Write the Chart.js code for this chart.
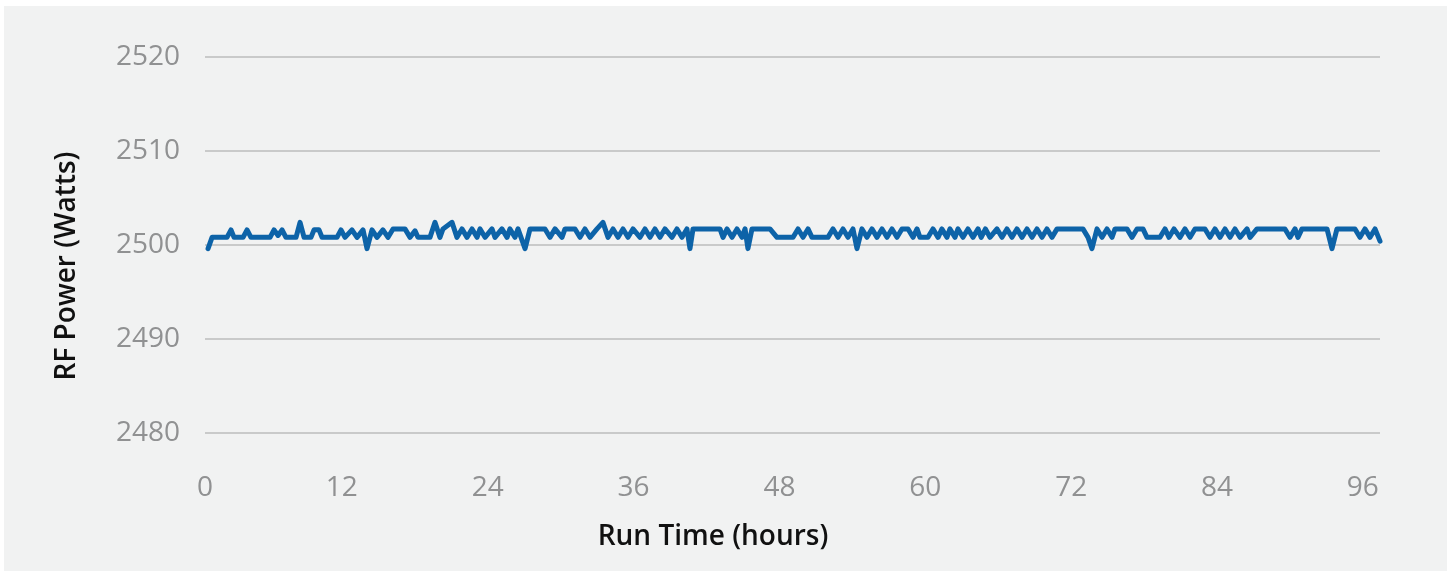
<!DOCTYPE html>
<html>
<head>
<meta charset="utf-8">
<script src="https://cdn.jsdelivr.net/npm/chart.js@4/dist/chart.umd.min.js"></script>
<style>
  html, body { margin: 0; padding: 0; background: #ffffff; }
  #panel { position: absolute; left: 4px; top: 6px; width: 1443px; height: 565px; background: #f1f2f2; }
  #wrap { position: absolute; left: 0; top: 0; width: 1447px; height: 575px; }
</style>
</head>
<body>
<div id="panel"></div>
<div id="wrap"><canvas id="canvasPower"></canvas></div>
<script>
// values
const runHours = [
  0.99, 1.32, 2.55, 2.88, 3.13, 3.87, 4.20, 4.52, 6.09, 6.42, 6.75, 7.08, 7.40, 8.23, 8.56, 8.89,
  9.46, 9.71, 10.12, 10.37, 11.60, 11.93, 12.26, 12.83, 13.25, 13.74, 14.07, 14.48, 14.89, 15.38, 15.80, 16.21,
  17.19, 17.61, 18.02, 18.26, 19.25, 19.66, 20.07, 20.32, 21.06, 21.47, 21.88, 22.30, 22.71, 23.12, 23.37, 23.78,
  24.35, 24.60, 25.17, 25.59, 25.83, 26.24, 26.49, 27.07, 27.48, 28.71, 29.12, 29.54, 30.11, 30.36, 31.18, 31.59,
  32.00, 32.41, 32.99, 33.48, 33.90, 34.31, 34.72, 35.13, 35.54, 35.95, 36.53, 36.94, 37.35, 37.76, 38.17, 38.58,
  39.16, 39.57, 39.98, 40.39, 40.64, 40.89, 43.11, 43.36, 43.69, 44.10, 44.51, 44.92, 45.17, 45.41, 45.74, 47.22,
  47.80, 49.12, 49.53, 49.94, 50.35, 50.68, 51.99, 52.41, 52.82, 53.23, 53.64, 54.05, 54.38, 54.79, 55.20, 55.61,
  56.03, 56.44, 56.85, 57.26, 57.67, 58.08, 58.58, 58.99, 59.32, 59.56, 60.22, 60.63, 61.05, 61.37, 61.78, 62.03,
  62.44, 62.69, 63.10, 63.51, 63.92, 64.34, 64.60, 64.95, 65.32, 65.90, 66.31, 66.72, 67.13, 67.54, 67.96, 68.37,
  68.78, 69.19, 69.60, 70.01, 70.42, 70.84, 72.97, 73.39, 73.71, 74.13, 74.54, 74.95, 75.36, 75.61, 76.59, 77.01,
  77.42, 77.91, 78.24, 79.31, 79.72, 80.05, 80.46, 80.95, 81.37, 81.78, 82.19, 83.01, 83.42, 83.83, 84.25, 84.66,
  85.07, 85.48, 85.89, 86.47, 86.72, 87.29, 89.59, 90.00, 90.42, 90.66, 90.99, 93.05, 93.46, 93.87, 95.35, 95.76,
  96.17, 96.59, 97.00, 97.41
];

const rfPowerW = [
  2499.6, 2500.8, 2500.8, 2501.6, 2500.8, 2500.8, 2501.6, 2500.8, 2500.8, 2501.6, 2501.0, 2501.6, 2500.8, 2500.8, 2502.4, 2500.8,
  2500.8, 2501.6, 2501.6, 2500.8, 2500.8, 2501.6, 2500.8, 2501.6, 2500.8, 2501.6, 2499.6, 2501.6, 2500.8, 2501.6, 2500.8, 2501.7,
  2501.7, 2500.8, 2501.5, 2500.8, 2500.8, 2502.4, 2500.8, 2501.7, 2502.4, 2500.8, 2501.7, 2500.8, 2501.7, 2500.8, 2501.7, 2500.8,
  2501.7, 2500.8, 2501.7, 2500.8, 2501.7, 2500.8, 2501.7, 2499.6, 2501.7, 2501.7, 2500.8, 2501.7, 2500.8, 2501.7, 2501.7, 2500.8,
  2501.7, 2500.8, 2501.7, 2502.4, 2500.8, 2501.7, 2500.8, 2501.7, 2500.8, 2501.7, 2500.8, 2501.7, 2500.8, 2501.7, 2500.8, 2501.7,
  2500.8, 2501.7, 2500.8, 2501.7, 2499.6, 2501.7, 2501.7, 2500.8, 2501.7, 2500.8, 2501.7, 2500.8, 2501.7, 2499.6, 2501.7, 2501.7,
  2500.8, 2500.8, 2501.7, 2500.8, 2501.7, 2500.8, 2500.8, 2501.7, 2500.8, 2501.7, 2500.8, 2501.7, 2499.6, 2501.7, 2500.8, 2501.7,
  2500.8, 2501.7, 2500.8, 2501.7, 2500.8, 2501.7, 2501.7, 2500.8, 2501.7, 2500.8, 2500.8, 2501.7, 2500.8, 2501.7, 2500.8, 2501.7,
  2500.8, 2501.7, 2500.8, 2501.7, 2500.8, 2501.7, 2500.8, 2501.7, 2500.8, 2501.7, 2500.8, 2501.7, 2500.8, 2501.7, 2500.8, 2501.7,
  2500.8, 2501.7, 2500.8, 2501.7, 2500.8, 2501.7, 2501.7, 2500.8, 2499.6, 2501.7, 2500.8, 2501.7, 2500.8, 2501.7, 2501.7, 2500.8,
  2501.7, 2501.7, 2500.8, 2500.8, 2501.7, 2500.8, 2501.7, 2500.8, 2501.7, 2500.8, 2501.7, 2501.7, 2500.8, 2501.7, 2500.8, 2501.7,
  2500.8, 2501.7, 2500.8, 2501.7, 2500.8, 2501.7, 2501.7, 2500.8, 2501.7, 2500.8, 2501.7, 2501.7, 2499.6, 2501.7, 2501.7, 2500.8,
  2501.7, 2500.8, 2501.7, 2500.4
];

const xTickLabels = [0, 12, 24, 36, 48, 60, 72, 84, 96];
const yTickLabels = [2480, 2490, 2500, 2510, 2520];

const X_MIN = 0.74;
const X_MAX = 97.41;

const tickGrey = '#909192';
const tickFont = {family: "'Open Sans', sans-serif", size: 28, weight: 500, lineHeight: 1};
const titleFont = {family: "'Open Sans', sans-serif", size: 28, weight: 600, lineHeight: 1.2};

const ctx = document.getElementById('canvasPower').getContext('2d');

const points = runHours.map((h, i) => ({x: h, y: rfPowerW[i]}));

const myChart = new Chart(ctx, {
    type: 'line',
    data: {
        datasets: [{
            data: points,
            borderColor: '#0d63a8',
            borderWidth: 5,
            borderJoinStyle: 'round',
            borderCapStyle: 'round',
            pointRadius: 0,
            tension: 0,
            fill: false,
            clip: false
        }]
    },
    options: {
        responsive: true,
        maintainAspectRatio: false,
        animation: false,
        devicePixelRatio: 1,
        layout: {padding: {top: 57, right: 21, bottom: 0, left: 0}},
        plugins: {
            legend: {display: false},
            tooltip: {enabled: false},
            title: {
                display: true,
                text: 'Run Time (hours)',
                position: 'bottom',
                color: '#111111',
                font: titleFont,
                padding: {top: 0, bottom: 21}
            }
        },
        scales: {
            x: {
                type: 'linear',
                min: X_MIN,
                max: X_MAX,
                grid: {display: false, drawTicks: false},
                border: {display: false},
                afterBuildTicks: (axis) => {
                    axis.ticks = xTickLabels.map(v => ({value: Math.max(v, X_MIN)}));
                },
                afterFit: (scale) => { scale.height = 45.4; },
                ticks: {
                    autoSkip: false,
                    maxRotation: 0,
                    padding: -1,
                    color: tickGrey,
                    font: tickFont,
                    callback: (value, index) => xTickLabels[index]
                }
            },
            y: {
                min: 2475.5,
                max: 2520,
                grid: {color: '#c9caca', lineWidth: 2, drawTicks: false},
                border: {display: false},
                afterBuildTicks: (axis) => {
                    axis.ticks = yTickLabels.map(v => ({value: v}));
                },
                afterFit: (scale) => { scale.width = 205; },
                ticks: {
                    padding: 25,
                    color: tickGrey,
                    font: tickFont,
                    callback: (value, index) => String(yTickLabels[index])
                },
                title: {
                    display: true,
                    text: 'RF Power (Watts)',
                    color: '#111111',
                    font: titleFont,
                    padding: {top: 50, bottom: 0}
                }
            },
            yRight: {
                position: 'right',
                display: true,
                grid: {display: false, drawTicks: false},
                border: {display: false},
                ticks: {display: false},
                afterFit: (scale) => { scale.width = 46; }
            }
        }
    }
});
</script>
</body>
</html>
